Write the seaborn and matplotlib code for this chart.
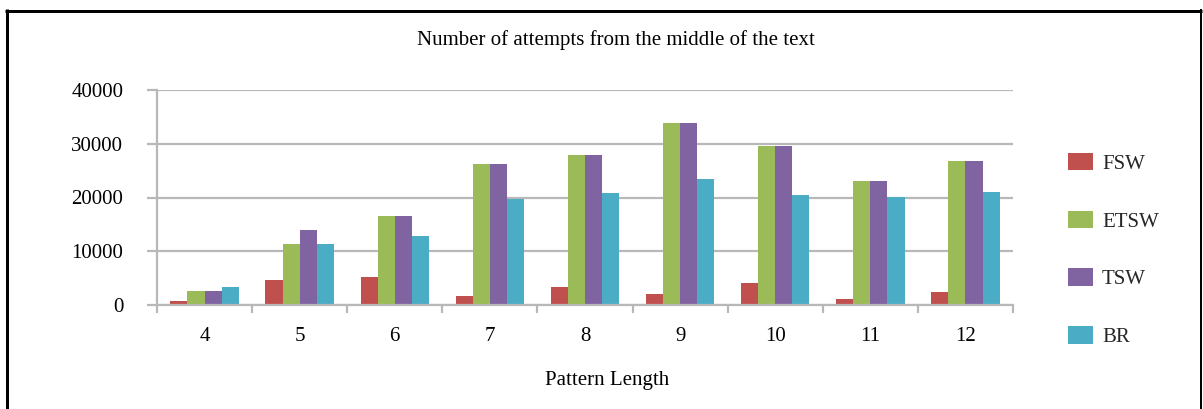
import matplotlib
matplotlib.use("Agg")
import matplotlib.pyplot as plt
from matplotlib.lines import Line2D
from matplotlib.ticker import FixedLocator
import seaborn as sns
import pandas as pd

# ---- data ----
lengths = ["4", "5", "6", "7", "8", "9", "10", "11", "12"]
series_names = ["FSW", "ETSW", "TSW", "BR"]
fsw = [700, 4650, 5150, 1750, 3400, 2050, 4100, 1200, 2400]
etsw = [2600, 11400, 16550, 26200, 27850, 33900, 29650, 23100, 26850]
tsw = [2600, 13950, 16550, 26200, 27850, 33900, 29650, 23100, 26850]
br = [3400, 11400, 12850, 19650, 20750, 23400, 20450, 20150, 21100]
y_ticks = [0, 10000, 20000, 30000, 40000]
colors = ["#C0504D", "#9BBB59", "#8064A2", "#4BACC6"]

rows = []
for name, vals in zip(series_names, [fsw, etsw, tsw, br]):
    for L, v in zip(lengths, vals):
        rows.append({"Pattern Length": L, "Method": name, "Attempts": v})
df = pd.DataFrame(rows)

sns.set_theme(style="white")
plt.rcParams["font.family"] = ["Liberation Serif", "DejaVu Serif"]

W, H = 1203, 409
fig = plt.figure(figsize=(W / 100, H / 100), dpi=100)
ax = fig.add_axes([157 / W, 1 - 305 / H, (1013 - 157) / W, (305 - 90) / H])

sns.barplot(data=df, x="Pattern Length", y="Attempts", hue="Method",
            order=lengths, hue_order=series_names, palette=colors,
            width=0.72, saturation=1, gap=0, ax=ax, legend=True,
            linewidth=0, edgecolor="none")

grid_c = "#B8B8B8"
ax.set_ylim(0, 40000)
ax.set_xlim(-0.5, len(lengths) - 0.5)
ax.set_yticks(y_ticks)
ax.set_yticklabels([str(t) for t in y_ticks])
ax.yaxis.grid(True, color=grid_c, lw=1.6)
ax.xaxis.grid(False)
ax.set_axisbelow(True)

for s in ["top", "right"]:
    ax.spines[s].set_visible(False)
for s in ["left", "bottom"]:
    ax.spines[s].set_color(grid_c)
    ax.spines[s].set_linewidth(1.6)

ax.tick_params(axis="y", which="major", length=7.2, width=1.6, color=grid_c,
               pad=17, labelsize=15, labelcolor="black", left=True)
ax.tick_params(axis="x", which="major", length=0, pad=16, labelsize=15,
               labelcolor="black")
ax.xaxis.set_minor_locator(FixedLocator([i - 0.5 for i in range(len(lengths) + 1)]))
ax.tick_params(axis="x", which="minor", length=6, width=1.6, color=grid_c,
               bottom=True)

ax.set_ylabel("")
ax.set_xlabel("")
fig.text(607 / W, 1 - 381 / H, "Pattern Length", ha="center", va="center",
         fontsize=15, color="black")
fig.text(616 / W, 1 - 40 / H, "Number of attempts from the middle of the text",
         ha="center", va="center", fontsize=15, color="black")

handles, labels = ax.get_legend_handles_labels()
ax.get_legend().remove()
fig.legend(handles, labels, loc="center left",
           bbox_to_anchor=(1068 / W, 1 - 250 / H), frameon=False,
           fontsize=15, handlelength=1.18, handleheight=0.93,
           handletextpad=0.45, labelspacing=1.77, borderaxespad=0,
           borderpad=0)

# figure border
px = 0.72
for xs, ys, lw in [([6.5 / W, 6.5 / W], [0, 1 - 9 / H], 3),
                   ([5 / W, 1202 / W], [1 - 10.5 / H, 1 - 10.5 / H], 3),
                   ([1201 / W, 1201 / W], [0, 1 - 9 / H], 2)]:
    fig.add_artist(Line2D(xs, ys, color="black", lw=lw * px,
                          solid_capstyle="butt"))

fig.savefig("out.png", dpi=100, facecolor="white")
